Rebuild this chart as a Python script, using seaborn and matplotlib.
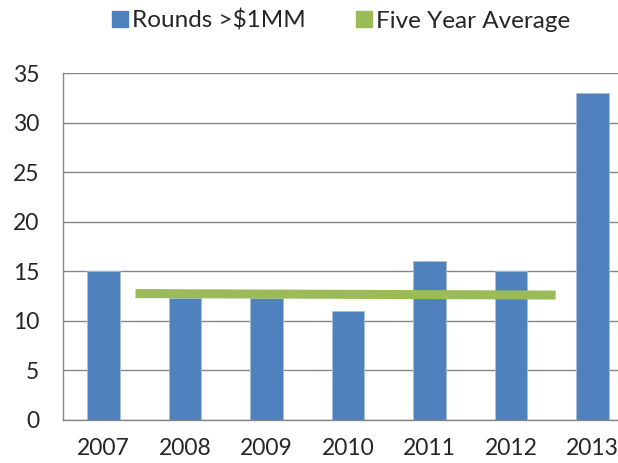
import matplotlib
matplotlib.use("Agg")
import matplotlib.pyplot as plt
import seaborn as sns
import pandas as pd
from matplotlib.lines import Line2D

years = ["2007", "2008", "2009", "2010", "2011", "2012", "2013"]
rounds = [15, 12.3, 12.3, 11, 16, 15, 33]

# five year average line: start/end in category units and its values
avg_x = [0.39, 5.55]
avg_values = [12.75, 12.6]

bar_color = "#4F81BD"
line_color = "#9BBB59"
grid_color = "#868686"

sns.set_style("white")
plt.rcParams['font.family'] = ['Lato', 'DejaVu Sans']

data = pd.DataFrame({"Year": years, "Rounds": rounds})

fig = plt.figure(figsize=(6.18, 4.63), dpi=100)
ax = fig.add_axes([63 / 618, 43 / 463, 570 / 618, 347 / 463])

sns.barplot(data=data, x="Year", y="Rounds", color=bar_color, width=0.4,
            saturation=1, edgecolor="#A7C0DE", linewidth=0.6, ax=ax, zorder=2)
ax.plot(avg_x, avg_values, color=line_color, linewidth=6.5,
        solid_capstyle="butt", zorder=3)

ax.set_ylim(0, 35)
ax.set_xlim(-0.5, len(years) - 0.5)
ax.set_yticks(range(0, 36, 5))
ax.yaxis.grid(True, color=grid_color, linewidth=1)
ax.set_axisbelow(True)

ax.set_xticks([i - 0.5 for i in range(len(years) + 1)])
ax.set_xticklabels([])
ax.set_xticks(range(len(years)), minor=True)
ax.set_xticklabels(years, minor=True)
ax.tick_params(axis="x", which="major", length=6, color=grid_color, direction="out")
ax.tick_params(axis="x", which="minor", length=0, pad=13, labelsize=16.5)
ax.tick_params(axis="y", length=5, color=grid_color, direction="out", pad=12, labelsize=16.5)
ax.set_xlabel("")
ax.set_ylabel("")

for side in ["top", "right"]:
    ax.spines[side].set_visible(False)
for side in ["left", "bottom"]:
    ax.spines[side].set_color(grid_color)
    ax.spines[side].set_linewidth(1)

handles = [
    Line2D([], [], marker="s", linestyle="none", markersize=11,
           markerfacecolor=bar_color, markeredgecolor=bar_color),
    Line2D([], [], marker="s", linestyle="none", markersize=11,
           markerfacecolor=line_color, markeredgecolor=line_color),
]
fig.legend(handles, ["Rounds >$1MM", "Five Year Average"], loc="center",
           bbox_to_anchor=(340 / 618, 1 - 21 / 463), ncol=2, frameon=False,
           fontsize=17.5, handletextpad=0.1, columnspacing=2.0, handlelength=0.8)

fig.savefig("out.png", dpi=100)
